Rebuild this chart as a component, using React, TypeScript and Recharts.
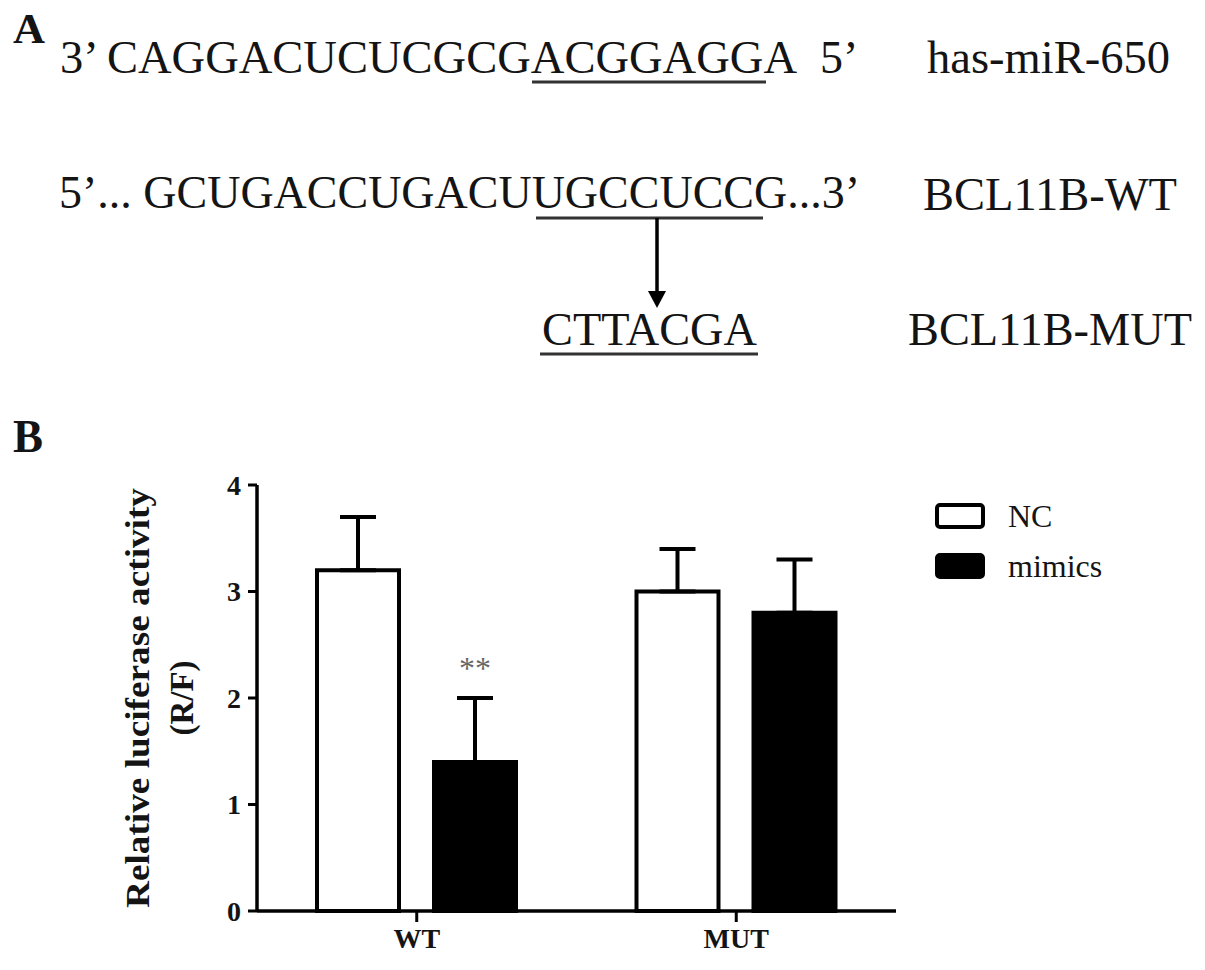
import React from 'react';
import { BarChart, Bar, XAxis, YAxis, ErrorBar, Legend, LabelList, Label } from 'recharts';

const groups = ['WT', 'MUT'];
const ncMeans = [3.2, 3.0];
const ncErrors = [0.5, 0.4];
const mimicsMeans = [1.4, 2.8];
const mimicsErrors = [0.6, 0.5];
const significance = ['**', ''];
const yTicks = [0, 1, 2, 3, 4];

const SERIF = '"Liberation Serif", "Times New Roman", Times, serif';
const INK = '#141414';

// only the upper half of each error bar is drawn, so the low side is 0
const data = groups.map((group, i) => ({
  group,
  nc: ncMeans[i],
  ncErr: [0, ncErrors[i]],
  mimics: mimicsMeans[i],
  mimicsErr: [0, mimicsErrors[i]],
  sig: significance[i],
}));

const YLabel = (props: any) => {
  const vb = props.viewBox;
  const cy = vb.y + vb.height / 2;
  const x1 = vb.x + 38;
  const x2 = vb.x + 82;
  return (
    <g fontFamily={SERIF} fontWeight="bold" fontSize={33} fill={INK}>
      <text x={x1} y={cy} textAnchor="middle" dominantBaseline="central" textLength={420}
        lengthAdjust="spacingAndGlyphs" transform={`rotate(-90, ${x1}, ${cy})`}>
        Relative luciferase activity
      </text>
      <text x={x2} y={cy} textAnchor="middle" dominantBaseline="central"
        transform={`rotate(-90, ${x2}, ${cy})`}>
        (R/F)
      </text>
    </g>
  );
};

const SigLabel = (props: any) => {
  const { x, y, width, value } = props;
  if (!value) return null;
  return (
    <text x={x + width / 2} y={y - 83} textAnchor="middle" fontSize={32} fill="#666" fontFamily={SERIF}>
      {value}
    </text>
  );
};

const LegendContent = (props: any) => (
  <div style={{ fontFamily: SERIF }}>
    {(props.payload || []).map((entry: any) => (
      <div key={entry.value} style={{ display: 'flex', alignItems: 'center', height: 50 }}>
        <div
          style={{
            width: 50,
            height: 26,
            boxSizing: 'border-box',
            border: '4px solid #000',
            borderRadius: 5,
            background: entry.color,
          }}
        />
        <span style={{ marginLeft: 23, fontSize: 32, lineHeight: '32px', color: INK }}>{entry.value}</span>
      </div>
    ))}
  </div>
);

const PanelA = () => (
  <svg width={1205} height={470} style={{ position: 'absolute', left: 0, top: 0, pointerEvents: 'none' }}>
    <g fontFamily={SERIF} fill={INK}>
      <text x={13} y={43} fontSize={42} fontWeight="bold" textLength={32} lengthAdjust="spacingAndGlyphs">A</text>
      <text x={60} y={73} fontSize={46} textLength={737} lengthAdjust="spacingAndGlyphs">3’ CAGGACUCUCGCGACGGAGGA</text>
      <text x={820} y={73} fontSize={46}>5’</text>
      <text x={927} y={73} fontSize={46} textLength={243} lengthAdjust="spacingAndGlyphs">has-miR-650</text>

      <text x={59} y={208} fontSize={46} textLength={801} lengthAdjust="spacingAndGlyphs">5’... GCUGACCUGACUUGCCUCCG...3’</text>
      <text x={923} y={210} fontSize={46} textLength={254} lengthAdjust="spacingAndGlyphs">BCL11B-WT</text>

      <text x={542} y={345} fontSize={46} textLength={215} lengthAdjust="spacingAndGlyphs">CTTACGA</text>
      <text x={908} y={345} fontSize={46} textLength={284} lengthAdjust="spacingAndGlyphs">BCL11B-MUT</text>

      <text x={13} y={452} fontSize={46} fontWeight="bold" textLength={30} lengthAdjust="spacingAndGlyphs">B</text>
    </g>
    <g stroke="#333" strokeWidth={3}>
      <line x1={532} y1={82} x2={766} y2={82} />
      <line x1={536} y1={218} x2={763} y2={218} />
      <line x1={540} y1={354} x2={758} y2={354} />
    </g>
    <line x1={657} y1={218} x2={657} y2={294} stroke="#000" strokeWidth={3.5} />
    <polygon points="648,291 666,291 657,308" fill="#000" />
  </svg>
);

export default function App() {
  return (
    <div style={{ position: 'absolute', left: 0, top: 0, width: 1205, height: 970, background: '#fff' }}>
      <div style={{ position: 'absolute', left: 0, top: 0 }}>
        <BarChart
          width={1205}
          height={970}
          data={data}
          margin={{ top: 485, right: 309, bottom: 19, left: 100 }}
          barSize={82}
          barGap={35}
        >
          <XAxis
            dataKey="group"
            height={40}
            interval={0}
            tickSize={11}
            tickMargin={6}
            axisLine={{ stroke: '#000', strokeWidth: 3.5 }}
            tickLine={{ stroke: '#000', strokeWidth: 3 }}
            tick={{ fill: INK, fontSize: 28, fontWeight: 'bold', fontFamily: SERIF }}
          />
          <YAxis
            domain={[0, 4]}
            ticks={yTicks}
            width={157}
            tickSize={9}
            tickMargin={7}
            axisLine={{ stroke: '#000', strokeWidth: 3.5 }}
            tickLine={{ stroke: '#000', strokeWidth: 3 }}
            tick={{ fill: INK, fontSize: 28, fontWeight: 'bold', fontFamily: SERIF }}
          >
            <Label content={YLabel} />
          </YAxis>
          <Legend
            layout="horizontal"
            verticalAlign="middle"
            align="center"
            content={LegendContent}
            wrapperStyle={{ left: 935, top: 491, width: 250 }}
          />
          <Bar dataKey="nc" name="NC" fill="#fff" stroke="#000" strokeWidth={4} isAnimationActive={false}>
            <ErrorBar dataKey="ncErr" width={18} stroke="#000" strokeWidth={4} isAnimationActive={false} />
          </Bar>
          <Bar dataKey="mimics" name="mimics" fill="#000" stroke="#000" strokeWidth={4} isAnimationActive={false}>
            <ErrorBar dataKey="mimicsErr" width={18} stroke="#000" strokeWidth={4} isAnimationActive={false} />
            <LabelList dataKey="sig" content={SigLabel} />
          </Bar>
        </BarChart>
      </div>
      <PanelA />
    </div>
  );
}
